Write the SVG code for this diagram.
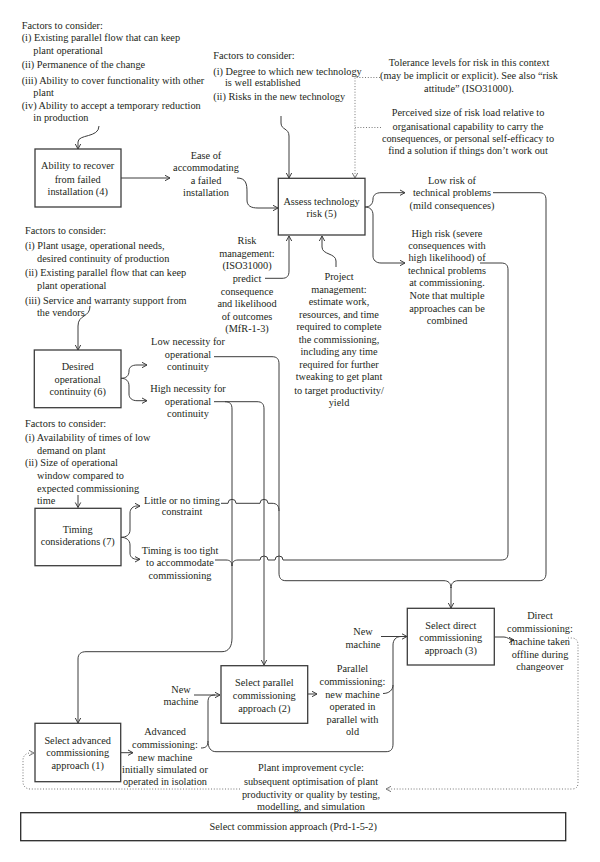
<svg xmlns="http://www.w3.org/2000/svg" width="600" height="862" viewBox="0 0 600 862">
<style>
.t{font-family:"Liberation Serif","Times New Roman",serif;font-size:10.3px;fill:#231f20}
.c{text-anchor:middle}
.box{fill:#fff;stroke:#3c3c3c;stroke-width:1.3}
.ln{fill:none;stroke:#3c3c3c;stroke-width:1}
.dot{fill:none;stroke:#777;stroke-width:1;stroke-dasharray:1 1.8}
</style>
<defs>
<marker id="a" markerUnits="userSpaceOnUse" markerWidth="8" markerHeight="8" refX="7" refY="4" orient="auto"><path d="M2,1.3 L7,4 L2,6.7" fill="none" stroke="#3c3c3c" stroke-width="1"/></marker>
<marker id="ad" markerUnits="userSpaceOnUse" markerWidth="8" markerHeight="8" refX="7" refY="4" orient="auto"><path d="M2,1.3 L7,4 L2,6.7" fill="none" stroke="#777" stroke-width="1"/></marker>
</defs>
<rect width="600" height="862" fill="#fff"/>

<g id="connectors">
<path class="ln" marker-end="url(#a)" d="M99 126 C99 138 78 134 78 142 L78 149"/>
<path class="ln" marker-end="url(#a)" d="M121 178 L170 178"/>
<path class="ln" marker-end="url(#a)" d="M237 178 C246 178 247 184 247 192 L247 200 C247 206 251 208 258 208 L278 208"/>
<path class="ln" marker-end="url(#a)" d="M281 116 L281 123 C281 130 289 128 289 136 L289 178"/>
<path class="dot" marker-end="url(#ad)" d="M380 77.5 L355 77.5 L355 178"/>
<path class="dot" d="M381 127.5 L355 127.5"/>
<path class="ln" marker-end="url(#a)" d="M365 207 C370 207 373 204 373 199 C373 195 376 192.7 381 192.7 L405 192.7"/>
<path class="ln" marker-end="url(#a)" d="M365 207 C370 207 373 210 373 215 L373 256 C373 260 376 263 381 263 L405 263"/>
<path class="ln" marker-end="url(#a)" d="M265 278.3 L282 278.3 C287 278.3 289 276 289 271 L289 236"/>
<path class="ln" marker-end="url(#a)" d="M336 267 L336 261 C336 253 322 255 322 247 L322 236"/>
<path class="ln" d="M493 192.7 L539 192.7 C544 192.7 546 195 546 200 L546 573 C546 578 544 580.7 539 580.7 L458 580.7 C454 580.7 451 583 451 588"/>
<path class="ln" d="M279 364 L279 573 C279 578 281 580.7 286 580.7 L444 580.7 C448 580.7 451 583 451 588"/>
<path class="ln" marker-end="url(#a)" d="M451 587 L451 608"/>
<path class="ln" d="M480 263 L501 263 C506 263 508 265 508 270 L508 553 C508 558 506 560 501 560 L283 560 A4 4 0 0 0 275 560 L268 560 A4 4 0 0 0 260 560 L238 560 C234 560 232 562 232 566"/>
<path class="ln" d="M215 560 L226 560 C230 560 232 562 232 566"/>
<path class="ln" marker-end="url(#a)" d="M90 306 C90 318 78 314 78 326 L78 350"/>
<path class="ln" marker-end="url(#a)" d="M121 378.3 C126 378.3 129 376 129 371 C129 367 132 365 137 365 L147 365"/>
<path class="ln" marker-end="url(#a)" d="M121 378.3 C126 378.3 129 381 129 386 L129 394 C129 398 132 400.7 137 400.7 L147 400.7"/>
<path class="ln" d="M214 356.7 L272 356.7 C277 356.7 279 359 279 364"/>
<path class="ln" marker-end="url(#a)" d="M214 401.7 L225 401.7 C230 401.7 232 404 232 409 L232 638 C232 646 229 651.7 222 651.7 L86 651.7 C81 651.7 78 654 78 659 L78 723"/>
<path class="ln" marker-end="url(#a)" d="M225 401.7 L257 401.7 C262 401.7 264 404 264 409 L264 665"/>
<path class="ln" marker-end="url(#a)" d="M78 495 L78 507.5"/>
<path class="ln" marker-end="url(#a)" d="M121 537.3 C126 537.3 130 535 130 530 L130 513 C130 509 133 506 137 506 L140 506"/>
<path class="ln" marker-end="url(#a)" d="M121 537.3 C126 537.3 130 540 130 545 L130 553 C130 557 133 559.3 137 559.3 L140 559.3"/>
<path class="ln" d="M221 503.3 L228 503.3 A4 4 0 0 1 236 503.3 L260 503.3 A4 4 0 0 1 268 503.3 L272 503.3 C277 503.3 279 506 279 511"/>
<path class="ln" marker-end="url(#a)" d="M121 752.7 L133 752.7"/>
<path class="ln" marker-end="url(#a)" d="M194 695 L220 695"/>
<path class="ln" d="M201 748 C206 748 208 746 208 741 L208 702 C208 697 210 695 215 695"/>
<path class="ln" marker-end="url(#a)" d="M208 741 C208 748 211 751.7 216 751.7 L386 751.7 C391 751.7 393 749 393 744 L393 645 C393 640 396 636.5 401 636.5 L407 636.5"/>
<path class="ln" d="M381 636.5 L401 636.5"/>
<path class="ln" d="M383 693.5 C389 693.5 393 690 393 685"/>
<path class="ln" marker-end="url(#a)" d="M308 694 L317 694"/>
<path class="ln" marker-end="url(#a)" d="M494 637 L504 637 C508 637 509 640 514 640"/>
<path class="dot" marker-end="url(#ad)" d="M568 638 L572 638 C576 638 578 641 578 645 L578 783 C578 787 576 789 572 789 L386 789"/>
<path class="dot" marker-end="url(#ad)" d="M240 789 L30 789 C26 789 23 786 23 782 L23 760 C23 756 26 753 30 753 L34 753"/>
</g>

<g id="factors-4" class="t">
<text x="21.7" y="29.2">Factors to consider:</text>
<text x="21.7" y="41.2">(i) Existing parallel flow that can keep</text>
<text x="33.3" y="53.5">plant operational</text>
<text x="21.7" y="67.5">(ii) Permanence of the change</text>
<text x="21.7" y="83.5">(iii) Ability to cover functionality with other</text>
<text x="33.3" y="96.2">plant</text>
<text x="21.7" y="108.5">(iv) Ability to accept a temporary reduction</text>
<text x="33.3" y="121.2">in production</text>
</g>
<g id="node4">
<rect class="box" x="35" y="149" width="86" height="58"/>
<text class="t c" x="77.7" y="169.2">Ability to recover</text>
<text class="t c" x="77.7" y="182.5">from failed</text>
<text class="t c" x="77.7" y="195.2">installation (4)</text>
</g>
<g id="label-ease" class="t c">
<text x="206" y="159.2">Ease of</text>
<text x="206" y="171.2">accommodating</text>
<text x="206" y="183.5">a failed</text>
<text x="206" y="196.2">installation</text>
</g>
<g id="factors-5" class="t">
<text x="213.3" y="58.5">Factors to consider:</text>
<text x="213.3" y="74.5">(i) Degree to which new technology</text>
<text x="225" y="86.2">is well established</text>
<text x="213.3" y="99.5">(ii) Risks in the new technology</text>
</g>
<g id="label-tolerance" class="t c">
<text x="469" y="65.8">Tolerance levels for risk in this context</text>
<text x="469" y="78.5">(may be implicit or explicit). See also “risk</text>
<text x="469" y="91.8">attitude” (ISO31000).</text>
</g>
<g id="label-perceived" class="t c">
<text x="468" y="116.2">Perceived size of risk load relative to</text>
<text x="468" y="129.5">organisational capability to carry the</text>
<text x="468" y="141.8">consequences, or personal self-efficacy to</text>
<text x="468" y="154.2">find a solution if things don’t work out</text>
</g>
<g id="node5">
<rect class="box" x="278.3" y="178.3" width="86.7" height="56.7"/>
<text class="t c" x="321.6" y="204.5">Assess technology</text>
<text class="t c" x="321.6" y="216.8">risk (5)</text>
</g>
<g id="label-lowrisk" class="t c">
<text x="452" y="183.5">Low risk of</text>
<text x="452" y="196.2">technical problems</text>
<text x="452" y="208.5">(mild consequences)</text>
</g>
<g id="label-highrisk" class="t c">
<text x="447" y="236.8">High risk (severe</text>
<text x="447" y="248.5">consequences with</text>
<text x="447" y="261.2">high likelihood) of</text>
<text x="447" y="273.5">technical problems</text>
<text x="447" y="285.5">at commissioning.</text>
<text x="447" y="299.2">Note that multiple</text>
<text x="447" y="311.5">approaches can be</text>
<text x="447" y="324.2">combined</text>
</g>
<g id="label-riskmgmt" class="t c">
<text x="247" y="243.5">Risk</text>
<text x="247" y="256.8">management:</text>
<text x="247" y="268.5">(ISO31000)</text>
<text x="247" y="281.8">predict</text>
<text x="247" y="294.5">consequence</text>
<text x="247" y="306.8">and likelihood</text>
<text x="247" y="319.5">of outcomes</text>
<text x="247" y="331.8">(MfR-1-3)</text>
</g>
<g id="label-projmgmt" class="t c">
<text x="339" y="279.5">Project</text>
<text x="339" y="292.8">management:</text>
<text x="339" y="305.2">estimate work,</text>
<text x="339" y="317.8">resources, and time</text>
<text x="339" y="330.2">required to complete</text>
<text x="339" y="342.8">the commissioning,</text>
<text x="339" y="355.2">including any time</text>
<text x="339" y="367.8">required for further</text>
<text x="339" y="380.2">tweaking to get plant</text>
<text x="339" y="393.5">to target productivity/</text>
<text x="339" y="406.2">yield</text>
</g>
<g id="factors-6" class="t">
<text x="25" y="234.2">Factors to consider:</text>
<text x="25" y="249.2">(i) Plant usage, operational needs,</text>
<text x="37" y="261.8">desired continuity of production</text>
<text x="25" y="275.8">(ii) Existing parallel flow that can keep</text>
<text x="37" y="288.5">plant operational</text>
<text x="25" y="303.5">(iii) Service and warranty support from</text>
<text x="37" y="315.8">the vendors</text>
</g>
<g id="node6">
<rect class="box" x="34.3" y="350" width="86.7" height="57.7"/>
<text class="t c" x="77.7" y="369.5">Desired</text>
<text class="t c" x="77.7" y="382.8">operational</text>
<text class="t c" x="77.7" y="395.2">continuity (6)</text>
</g>
<g id="label-lownec" class="t c">
<text x="188" y="344.5">Low necessity for</text>
<text x="188" y="357.8">operational</text>
<text x="188" y="370.2">continuity</text>
</g>
<g id="label-highnec" class="t c">
<text x="188" y="391.8">High necessity for</text>
<text x="188" y="405.2">operational</text>
<text x="188" y="416.8">continuity</text>
</g>
<g id="factors-7" class="t">
<text x="25" y="426.5">Factors to consider:</text>
<text x="25" y="440.8">(i) Availability of times of low</text>
<text x="37" y="453.5">demand on plant</text>
<text x="25" y="466.2">(ii) Size of operational</text>
<text x="37" y="478.5">window compared to</text>
<text x="37" y="491.8">expected commissioning</text>
<text x="37" y="503.5">time</text>
</g>
<g id="node7">
<rect class="box" x="35" y="508.3" width="86" height="57.4"/>
<text class="t c" x="77.7" y="532.5">Timing</text>
<text class="t c" x="77.7" y="545.2">considerations (7)</text>
</g>
<g id="label-little" class="t c">
<text x="182" y="503.5">Little or no timing</text>
<text x="182" y="515.2">constraint</text>
</g>
<g id="label-tight" class="t c">
<text x="180" y="553.5">Timing is too tight</text>
<text x="180" y="566.2">to accommodate</text>
<text x="180" y="578.5">commissioning</text>
</g>
<g id="node3">
<rect class="box" x="407.3" y="608.3" width="87" height="56.7"/>
<text class="t c" x="450.8" y="628.5">Select direct</text>
<text class="t c" x="450.8" y="640.8">commissioning</text>
<text class="t c" x="450.8" y="654.2">approach (3)</text>
</g>
<g id="label-direct" class="t c">
<text x="540" y="618.5">Direct</text>
<text x="540" y="631.8">commissioning:</text>
<text x="540" y="645.2">machine taken</text>
<text x="540" y="657.5">offline during</text>
<text x="540" y="669.5">changeover</text>
</g>
<g id="label-new2" class="t c">
<text x="363" y="635.2">New</text>
<text x="363" y="647.8">machine</text>
</g>
<g id="node2">
<rect class="box" x="221" y="665.7" width="86.7" height="57.6"/>
<text class="t c" x="264.3" y="685.8">Select parallel</text>
<text class="t c" x="264.3" y="698.5">commissioning</text>
<text class="t c" x="264.3" y="711.8">approach (2)</text>
</g>
<g id="label-parallel" class="t c">
<text x="352.5" y="671.8">Parallel</text>
<text x="352.5" y="685.2">commissioning:</text>
<text x="352.5" y="697.5">new machine</text>
<text x="352.5" y="710.2">operated in</text>
<text x="352.5" y="722.8">parallel with</text>
<text x="352.5" y="734.5">old</text>
</g>
<g id="label-new1" class="t c">
<text x="181" y="692.8">New</text>
<text x="181" y="705.2">machine</text>
</g>
<g id="node1">
<rect class="box" x="35" y="723.3" width="85.7" height="58.4"/>
<text class="t c" x="77.7" y="743.5">Select advanced</text>
<text class="t c" x="77.7" y="756.2">commissioning</text>
<text class="t c" x="77.7" y="768.5">approach (1)</text>
</g>
<g id="label-advanced" class="t c">
<text x="165" y="735.2">Advanced</text>
<text x="165" y="747.8">commissioning:</text>
<text x="165" y="760.5">new machine</text>
<text x="165" y="772.8">initially simulated or</text>
<text x="165" y="785.2">operated in isolation</text>
</g>
<g id="label-improve" class="t c">
<text x="311" y="771.2">Plant improvement cycle:</text>
<text x="311" y="784.5">subsequent optimisation of plant</text>
<text x="311" y="797.5">productivity or quality by testing,</text>
<text x="311" y="809.5">modelling, and simulation</text>
</g>
<g id="node-main">
<rect x="20.7" y="812.7" width="545" height="28" fill="#fff" stroke="#2a2a2a" stroke-width="1.3"/>
<text class="t c" x="293.2" y="830.2">Select commission approach (Prd-1-5-2)</text>
</g>
</svg>
